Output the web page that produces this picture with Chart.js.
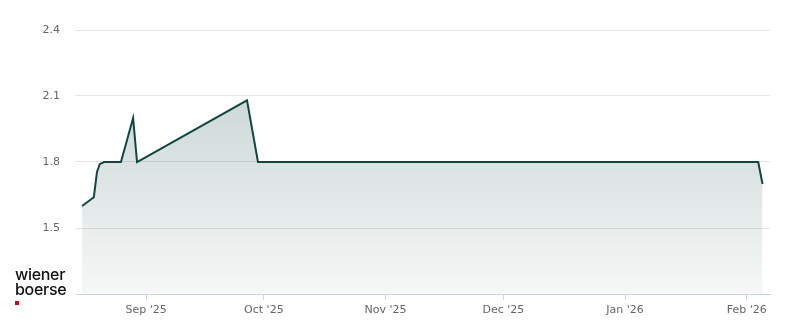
<!DOCTYPE html>
<html>
<head>
<meta charset="utf-8">
<script src="https://cdn.jsdelivr.net/npm/chart.js@4"></script>
<style>
  html, body { margin: 0; padding: 0; background: #fff; }
  #wrap { position: relative; width: 800px; height: 324px; }
  #logo { position: absolute; left: 15px; top: 267px; font-family: Inter, "Liberation Sans", sans-serif;
          font-size: 16px; font-weight: 500; line-height: 15px; color: #111; letter-spacing: -0.3px; }
  #logo i { display: block; width: 4px; height: 4px; background: #d0021b; margin-top: 4px; }
</style>
</head>
<body>
<div id="wrap">
  <canvas id="priceChart" width="800" height="324"></canvas>
  <div id="logo">wiener<br>boerse<i></i></div>
</div>
<script>
// Tage seit 1. Sep 2025 und Kurs
const days = [-16.3, -13.3, -12.5, -11.8, -10.7, -6.4, -3.3, -2.3, 25.7, 28.5, 155.9, 157];
const prices = [1.60, 1.64, 1.755, 1.79, 1.80, 1.80, 2.00, 1.80, 2.08, 1.80, 1.80, 1.70];

const monthTicks = [0, 30, 61, 91, 122, 153];
const monthLabels = ["Sep '25", "Oct '25", "Nov '25", "Dec '25", "Jan '26", "Feb '26"];
const yTicks = [1.2, 1.5, 1.8, 2.1, 2.4];

document.addEventListener('DOMContentLoaded', function () {
    const ctx = document.getElementById('priceChart').getContext('2d');

    new Chart(ctx, {
        type: 'line',
        data: {
            datasets: [{
                data: days.map((d, i) => ({ x: d, y: prices[i] })),
                borderColor: '#114740',
                borderWidth: 2,
                pointRadius: 0,
                tension: 0,
                fill: 'start',
                backgroundColor: function (context) {
                    const area = context.chart.chartArea;
                    if (!area) return 'rgba(17,71,64,0.15)';
                    const g = context.chart.ctx.createLinearGradient(0, area.top, 0, area.bottom);
                    g.addColorStop(0, 'rgba(17,71,64,0.27)');
                    g.addColorStop(1, 'rgba(17,71,64,0.04)');
                    return g;
                }
            }]
        },
        options: {
            responsive: false,
            animation: false,
            layout: { padding: { top: 30, right: 30, left: 0, bottom: 0 } },
            plugins: { legend: { display: false }, tooltip: { enabled: false } },
            scales: {
                x: {
                    type: 'linear',
                    min: -18.1,
                    max: 158.9,
                    afterBuildTicks: s => { s.ticks = monthTicks.map(v => ({ value: v })); },
                    afterFit: s => { s.height = 30; },
                    ticks: {
                        autoSkip: false,
                        maxRotation: 0,
                        padding: 4,
                        color: '#666',
                        font: { family: 'DejaVu Sans', size: 11 },
                        callback: (v) => monthLabels[monthTicks.indexOf(v)]
                    },
                    grid: {
                        drawOnChartArea: false,
                        drawTicks: true,
                        tickLength: 6,
                        color: '#c9d5e6'
                    },
                    border: { color: '#c9d5e6', width: 1 }
                },
                y: {
                    min: 1.2,
                    max: 2.4,
                    afterBuildTicks: s => { s.ticks = yTicks.map(v => ({ value: v })); },
                    afterFit: s => { s.width = 75; },
                    ticks: {
                        padding: 15,
                        color: '#666',
                        font: { family: 'DejaVu Sans', size: 11 },
                        callback: v => v === 1.2 ? '' : v.toFixed(1)
                    },
                    grid: { color: '#e6e6e6', drawTicks: false },
                    border: { display: false }
                }
            }
        }
    });
});
</script>
</body>
</html>
